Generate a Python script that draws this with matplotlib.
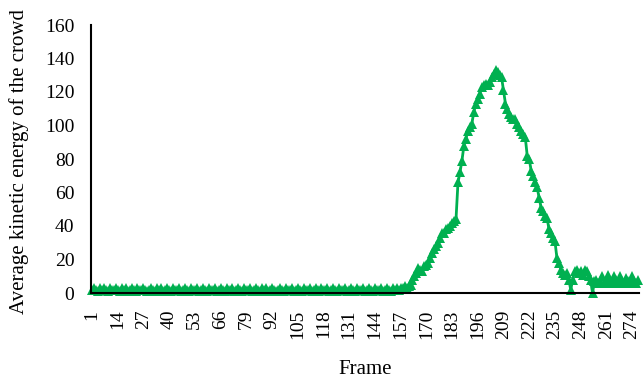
import matplotlib
matplotlib.use("Agg")
import matplotlib.pyplot as plt

# average kinetic energy per frame
flat_part = [
    2, 3, 2, 1, 3, 2, 3, 2, 1, 3, 2, 2, 3,
    2, 1, 3, 2, 3, 1, 2, 3, 2, 1, 3, 2, 2,
    3, 2, 1, 2, 3, 2, 1, 3, 2, 3, 1, 2, 3,
    2, 1, 3, 2, 2, 3, 1, 2, 3, 2, 1, 3, 2,
    2, 3, 1, 2, 3, 2, 1, 3, 2, 2, 3, 1, 2,
    3, 2, 1, 3, 2, 2, 3, 1, 2, 3, 2, 1, 3,
    2, 2, 3, 1, 2, 3, 2, 1, 3, 2, 3, 1, 2,
    3, 2, 1, 2, 3, 2, 1, 3, 2, 2, 3, 1, 2,
    3, 2, 1, 3, 2, 2, 3, 1, 2, 3, 2, 1, 3,
    2, 2, 3, 1, 2, 3, 2, 1, 3, 2, 2, 3, 1,
    2, 3, 2, 1, 3, 2, 2, 3, 1, 2, 3, 2, 1,
    3, 2, 2, 3, 1, 2, 3, 2, 1, 3, 2, 3, 2,
]
peak_part = [
    3, 3, 4, 3, 4, 5, 8, 10, 12, 15,
    14, 13, 16, 17, 18, 21, 24, 26, 28, 30,
    33, 36, 36, 38, 39, 40, 42, 43, 44, 66,
    72, 79, 88, 92, 97, 99, 101, 108, 113, 116,
    119, 123, 124, 125, 124, 126, 129, 131, 133, 132,
    130, 129, 121, 113, 110, 107, 105, 104, 104, 101,
    99, 97, 95, 93, 82, 80, 73, 70, 66, 63,
    57, 51, 49, 46, 45, 38, 36, 33, 31, 21,
    18, 14, 12, 11, 12, 8, 2, 8, 13, 14,
    12, 13, 11, 14, 13, 10, 8, 0, 7, 8,
    6, 7, 10, 6, 7, 11, 7, 6, 10, 8,
    6, 10, 7, 6, 9, 7, 6, 10, 7, 6,
    8,
]
energy = flat_part + peak_part
frames = list(range(1, len(energy) + 1))
tick_frames = frames[::13]
y_ticks = [0, 20, 40, 60, 80, 100, 120, 140, 160]

plt.rcParams["font.family"] = ["Liberation Serif", "DejaVu Serif"]

fig = plt.figure(figsize=(6.44, 3.81), dpi=100)
ax = fig.add_axes([91 / 644, 88 / 381, 548 / 644, 268 / 381])

ax.plot(frames, energy, color="#00B050", lw=2, marker="^", ms=7,
        markeredgewidth=0, clip_on=False)

ax.set_xlim(0.5, len(energy) + 0.5)
ax.set_ylim(0, 160)
ax.set_yticks(y_ticks)
ax.set_xticks(tick_frames)
ax.set_xticklabels([str(f) for f in tick_frames], rotation=90)
ax.tick_params(axis="both", length=0, labelsize=14, pad=12)

for side in ["top", "right"]:
    ax.spines[side].set_visible(False)
for side in ["left", "bottom"]:
    ax.spines[side].set_linewidth(1.5)
    ax.spines[side].set_color("black")

ax.set_xlabel("Frame", fontsize=15)
ax.set_ylabel("Average kinetic energy of the crowd", fontsize=15)
ax.xaxis.set_label_coords(0.5, -0.25)
ax.yaxis.set_label_coords(-0.113, 0.49)

fig.savefig("out.png", dpi=100)
